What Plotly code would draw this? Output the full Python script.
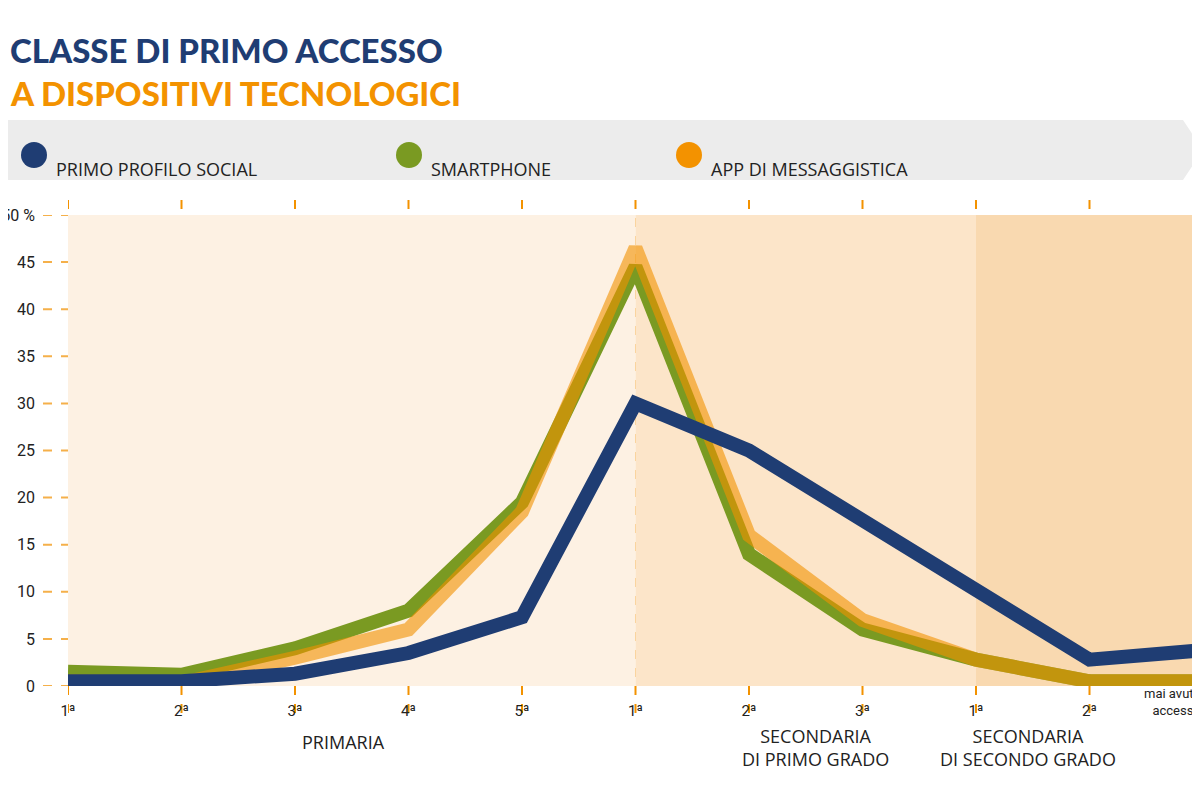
import plotly.graph_objects as go

# valori
classi = ["1ª", "2ª", "3ª", "4ª", "5ª", "1ª", "2ª", "3ª", "1ª", "2ª", ""]
social = [0.5, 0.5, 1.3, 3.5, 7.3, 30, 25, 17.5, 10, 2.8, 3.8]
smartphone = [1.5, 1.2, 4, 8, 19.5, 44.5, 14, 6, 2.8, 0.5, 0.5]
messaggi = [0.5, 0.3, 3, 6, 18.5, 46.5, 16, 7, 2.8, 0.5, 0.5]
y_ticks = [0, 5, 10, 15, 20, 25, 30, 35, 40, 45, 50]
y_text = ["0", "5", "10", "15", "20", "25", "30", "35", "40", "45", "50 %"]

NAVY = "#1f3d73"
GREEN = "#7a9a22"
ORANGE = "#f39200"
GRID = "#f5b04a"

W, H = 1200, 795
L, R, T, B = 60, 5, 207, 117
PW, PH = W - L - R, H - T - B


def px(x):
    return (x - L) / PW


def py(y):
    return (H - B - y) / PH


xs = list(range(len(classi)))
fig = go.Figure()
fig.add_trace(go.Scatter(x=xs, y=smartphone, mode="lines", line=dict(color=GREEN, width=14)))
fig.add_trace(go.Scatter(x=xs, y=messaggi, mode="lines", line=dict(color=ORANGE, width=14), opacity=0.6))
fig.add_trace(go.Scatter(x=xs, y=social, mode="lines", line=dict(color=NAVY, width=14)))

shapes = []
# fasce di sfondo
for x0, x1, c in [(0, 5, "#fdf1e3"), (5, 8, "#fce5c9"), (8, 10, "#f9d9b0")]:
    shapes.append(dict(type="rect", xref="x", yref="y", x0=x0, x1=x1, y0=0, y1=50,
                       fillcolor=c, line_width=0, layer="below"))
for v in y_ticks:
    shapes.append(dict(type="line", xref="paper", yref="y", x0=px(35), x1=1, y0=v, y1=v,
                       line=dict(color=GRID, width=2, dash="dash"), layer="between"))
for x in xs:
    shapes.append(dict(type="line", xref="x", yref="paper", x0=x, x1=x, y0=py(705), y1=py(190),
                       line=dict(color=ORANGE, width=2, dash="dash"), layer="between"))
# banda legenda
shapes.append(dict(type="path", xref="paper", yref="paper",
                   path=f"M {px(0)},{py(112)} L {px(1175)},{py(112)} L {px(1195)},{py(142)} "
                        f"L {px(1175)},{py(172)} L {px(0)},{py(172)} Z",
                   fillcolor="#ececec", line_width=0))
for cx, c in [(26, NAVY), (401, GREEN), (681, ORANGE)]:
    shapes.append(dict(type="circle", xref="paper", yref="paper", x0=px(cx - 13), x1=px(cx + 13),
                       y0=py(160), y1=py(134), fillcolor=c, line_width=0))

ann = []
F = "Open Sans"
for x, t in [(46, "PRIMO PROFILO SOCIAL"), (421, "SMARTPHONE"), (701, "APP DI MESSAGGISTICA")]:
    ann.append(dict(x=px(x), y=py(147), xref="paper", yref="paper", text=t, showarrow=False,
                    xanchor="left", font=dict(family=F, size=18, color="#222")))
ann.append(dict(x=px(0), y=py(20), xref="paper", yref="paper", text="CLASSE DI PRIMO ACCESSO",
                showarrow=False, xanchor="left", font=dict(family="Lato", size=33, color=NAVY, weight=900)))
ann.append(dict(x=px(0), y=py(63), xref="paper", yref="paper", text="A DISPOSITIVI TECNOLOGICI",
                showarrow=False, xanchor="left", font=dict(family="Lato", size=33, color=ORANGE, weight=900)))
ann.append(dict(x=1, y=py(712), xref="paper", yref="paper", text="mai avuto<br>accesso",
                showarrow=False, xanchor="right", align="right",
                font=dict(family="Roboto", size=13, color="#222")))
for x, y, t in [(292, 748, "PRIMARIA"), (808, 765, "SECONDARIA<br>DI PRIMO GRADO"),
                (1110, 765, "SECONDARIA<br>DI SECONDO GRADO")]:
    ann.append(dict(x=px(x), y=py(y), xref="paper", yref="paper", text=t, showarrow=False,
                    font=dict(family=F, size=18, color="#222")))

fig.update_layout(
    width=W, height=H, margin=dict(l=L, r=R, t=T, b=B, autoexpand=False),
    paper_bgcolor="white", plot_bgcolor="white", showlegend=False,
    shapes=shapes, annotations=ann,
    xaxis=dict(range=[0, 10], tickvals=xs, ticktext=classi, showgrid=False, zeroline=False,
               automargin=False, ticks="", ticklabelstandoff=14,
               tickfont=dict(family="Roboto", size=15, color="#222")),
    yaxis=dict(range=[0, 50], tickvals=y_ticks, ticktext=y_text, showgrid=False, zeroline=False,
               automargin=False, ticks="", ticklabelstandoff=32,
               tickfont=dict(family="Roboto", size=16, color="#222")),
)
fig.write_html("out.html")
